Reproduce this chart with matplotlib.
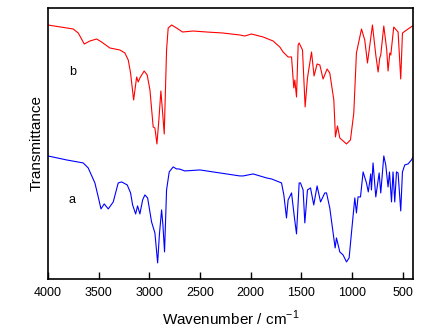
import matplotlib.pyplot as plt

plt.rcParams['font.family'] = ['Liberation Sans', 'DejaVu Sans']

# curve b (red), wavenumber / transmittance (arb. units)
wn_b = [4000, 3751, 3701, 3642, 3586, 3520, 3471, 3389, 3290, 3241, 3208, 3185,
        3155, 3125, 3110, 3093, 3051, 3021, 2994, 2962, 2945, 2925, 2906, 2886,
        2871, 2853, 2830, 2814, 2780, 2731, 2672, 2567, 2435, 2275, 2107, 2058,
        1992, 1877, 1779, 1713, 1680, 1631, 1597, 1575, 1565, 1548, 1532, 1522,
        1489, 1463, 1440, 1400, 1375, 1345, 1318, 1286, 1246, 1220, 1180, 1164,
        1144, 1121, 1055, 1016, 983, 957, 907, 875, 848, 799, 766, 743, 727,
        717, 687, 658, 645, 628, 618, 589, 546, 520, 503, 448, 404]
t_b = [254, 250, 246, 235, 238, 240, 237, 231, 229, 226, 219, 206,
       179, 202, 197, 201, 208, 204, 189, 152, 151, 135, 159, 188,
       169, 145, 229, 251, 254, 251, 247, 248, 247, 246, 244, 243,
       245, 242, 238, 232, 227, 222, 222, 191, 199, 182, 234, 236,
       229, 172, 201, 227, 203, 215, 214, 200, 210, 206, 179, 142,
       153, 141, 135, 139, 166, 226, 250, 239, 216, 254, 224, 207, 221,
       224, 253, 229, 208, 226, 224, 252, 247, 200, 246, 250, 253]

# curve a (blue)
wn_a = [4000, 3816, 3652, 3603, 3537, 3504, 3477, 3445, 3405, 3356, 3307, 3273,
        3218, 3185, 3165, 3135, 3116, 3093, 3066, 3044, 3017, 2978, 2945, 2918,
        2901, 2879, 2866, 2850, 2830, 2804, 2765, 2731, 2706, 2649, 2501, 2370,
        2107, 2074, 1976, 1844, 1795, 1696, 1673, 1647, 1631, 1597, 1572, 1548,
        1522, 1509, 1483, 1466, 1440, 1410, 1378, 1345, 1311, 1269, 1252, 1220,
        1187, 1167, 1154, 1121, 1089, 1055, 1029, 1006, 973, 957, 941, 917, 891,
        858, 840, 816, 809, 793, 766, 733, 717, 687, 668, 645, 631, 611, 596,
        579, 562, 546, 520, 503, 480, 448, 414, 398]
t_a = [123, 119, 116, 111, 96, 82, 70, 75, 70, 77, 96, 97,
       94, 86, 74, 65, 73, 65, 79, 84, 81, 57, 46, 16,
       44, 69, 54, 27, 89, 107, 112, 110, 110, 108, 109, 107,
       103, 103, 105, 101, 100, 96, 84, 61, 79, 86, 64, 45,
       96, 96, 89, 56, 89, 91, 74, 93, 77, 86, 86, 71,
       46, 31, 41, 27, 24, 17, 21, 46, 81, 66, 82, 82, 107,
       96, 87, 105, 89, 116, 82, 106, 86, 123, 114, 92, 107, 77, 107,
       77, 107, 106, 68, 107, 114, 115, 119, 122]

fig = plt.figure(figsize=(4.36, 3.34), dpi=100)
ax = fig.add_axes([0.110, 0.165, 0.837, 0.811])

ax.plot(wn_b, t_b, color='#ff0000', lw=0.8)
ax.plot(wn_a, t_a, color='#0000ff', lw=0.8)

ax.text(3760, 207, 'b', fontsize=9, ha='center', va='center')
ax.text(3760, 79, 'a', fontsize=9, ha='center', va='center')

ax.set_xlim(4000, 400)
ax.set_ylim(0, 271)
ax.set_xticks([4000, 3500, 3000, 2500, 2000, 1500, 1000, 500])
ax.set_yticks([])
ax.tick_params(axis='x', direction='in', length=5, width=1, labelsize=9, pad=6)
for s in ax.spines.values():
    s.set_linewidth(1.2)

ax.set_xlabel('Wavenumber / cm$^{\\mathregular{-1}}$', fontsize=11, labelpad=7)
ax.set_ylabel('Transmittance', fontsize=11, labelpad=3)

fig.savefig('out.png', dpi=100)
